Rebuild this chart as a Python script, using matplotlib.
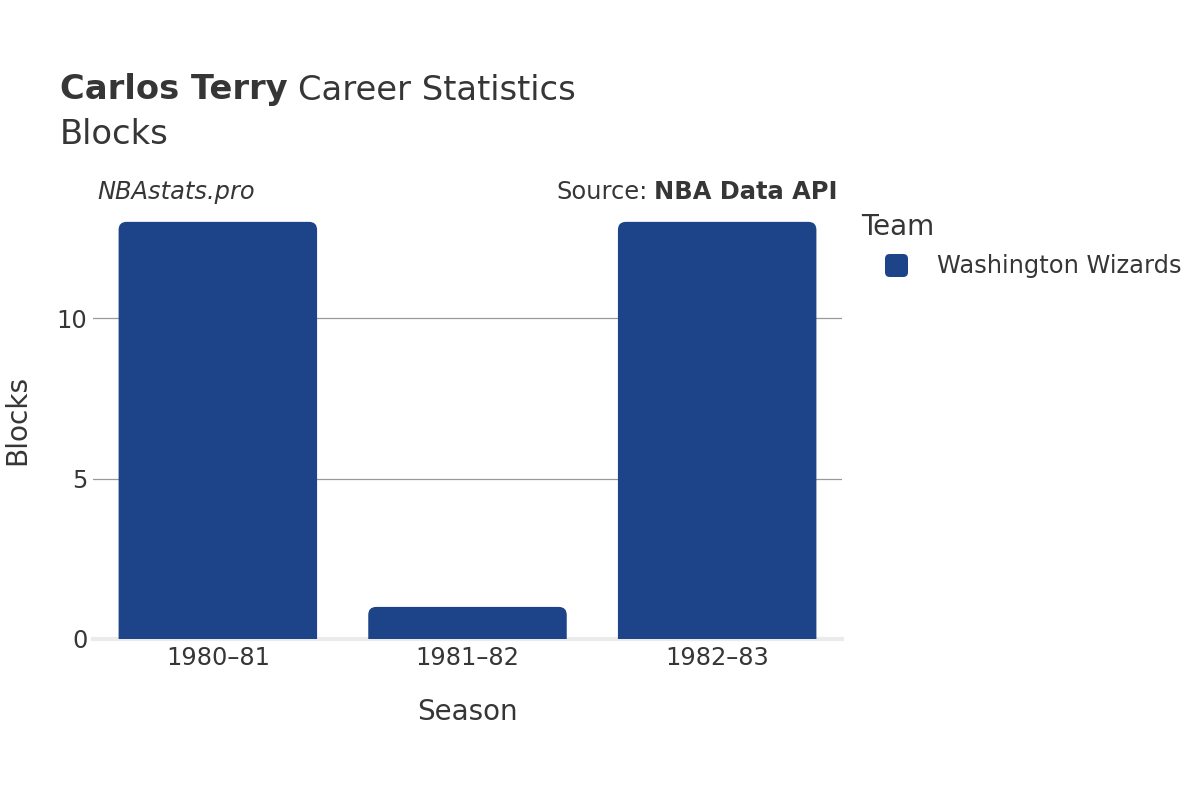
import matplotlib
matplotlib.use("Agg")
import matplotlib.pyplot as plt
from matplotlib.patches import FancyBboxPatch

seasons = ["1980–81", "1981–82", "1982–83"]
blocks = [13, 1, 13]
team = "Washington Wizards"
bar_color = "#1d4388"
text_color = "#363636"

plt.rcParams['font.family'] = ['DejaVu Sans']

fig = plt.figure(figsize=(12, 8), dpi=100)
ax = fig.add_axes([93/1200, 1-639/800, (842-93)/1200, (639-201)/800])

ymax = max(blocks) * 1.05
ax.set_xlim(-0.5, len(seasons) - 0.5)
ax.set_ylim(0, ymax)

bars = ax.bar(range(len(seasons)), blocks, width=0.795, color=bar_color, zorder=3)
px_per_x = (842-93) / len(seasons)
px_per_y = (639-201) / ymax
r_px = 8
for b in bars:
    x0, w, h = b.get_x(), b.get_width(), b.get_height()
    b.set_visible(False)
    ext = r_px / px_per_y
    p = FancyBboxPatch((x0, -ext), w, h + ext,
                       boxstyle=f"round,pad=0,rounding_size={r_px/px_per_x}",
                       mutation_aspect=px_per_x/px_per_y,
                       facecolor=bar_color, edgecolor='none', zorder=3,
                       clip_on=True)
    ax.add_patch(p)

ax.set_yticks([0, 5, 10])
ax.set_xticks(range(len(seasons)))
ax.set_xticklabels(seasons)
for v in [5, 10]:
    ax.axhline(v, color="#999999", lw=0.9, zorder=1)
ax.axhline(0, color="#ebebeb", lw=3, zorder=2, clip_on=False)

for s in ax.spines.values():
    s.set_visible(False)
ax.tick_params(axis='both', length=0, labelsize=17.4, colors=text_color)
ax.tick_params(axis='x', pad=5)
ax.tick_params(axis='y', pad=4)

fig.text(17/1200, 1-420/800, "Blocks", rotation=90, ha='center', va='center',
         fontsize=20.2, color=text_color)
fig.text(467/1200, 1-712/800, "Season", ha='center', va='center',
         fontsize=20, color=text_color)

# title
t1 = fig.text(60/1200, 1-90/800, "Carlos Terry", fontsize=24.3, fontweight='bold',
              color=text_color, ha='left', va='center')
fig.canvas.draw()
bb = t1.get_window_extent()
fig.text(bb.x1/1200 + 0.009, 1-90/800, "Career Statistics", fontsize=24.3,
         color=text_color, ha='left', va='center')
fig.text(60/1200, 1-134/800, "Blocks", fontsize=24.3, color=text_color,
         ha='left', va='center')

fig.text(97/1200, 1-192/800, "NBAstats.pro", fontsize=17.4, style='italic',
         color=text_color, ha='left', va='center')
s2 = fig.text(838/1200, 1-192/800, "NBA Data API", fontsize=17.4, fontweight='bold',
              color=text_color, ha='right', va='center')
fig.canvas.draw()
bb2 = s2.get_window_extent()
fig.text(bb2.x0/1200 - 0.006, 1-192/800, "Source:", fontsize=17.4,
         color=text_color, ha='right', va='center')

# legend
fig.text(861/1200, 1-227/800, "Team", fontsize=20, color=text_color,
         ha='left', va='center')
leg_patch = FancyBboxPatch((885/1200, 1-277/800), 23/1200, 23/800,
                           boxstyle="round,pad=0,rounding_size=0.004",
                           mutation_aspect=1.5,
                           transform=fig.transFigure, facecolor=bar_color,
                           edgecolor='none')
fig.patches.append(leg_patch)
fig.text(937/1200, 1-266/800, team, fontsize=17.4, color=text_color,
         ha='left', va='center')

fig.savefig("out.png", dpi=100, facecolor='white')
